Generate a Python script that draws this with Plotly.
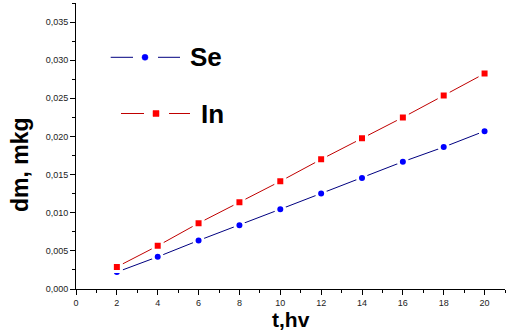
import plotly.graph_objects as go

# ---- data ----
t_hours = [2, 4, 6, 8, 10, 12, 14, 16, 18, 20]
se_dm = [0.00222, 0.00422, 0.00636, 0.00837, 0.01046, 0.01253, 0.01456, 0.01669, 0.01861, 0.0207]
in_dm = [0.00290, 0.00566, 0.00863, 0.01138, 0.01412, 0.01700, 0.01975, 0.02250, 0.02537, 0.02825]

x_tickvals = [0, 2, 4, 6, 8, 10, 12, 14, 16, 18, 20]
x_ticktext = ["0", "2", "4", "6", "8", "10", "12", "14", "16", "18", "20"]
y_tickvals = [0, 0.005, 0.010, 0.015, 0.020, 0.025, 0.030, 0.035]
y_ticktext = ["0,000", "0,005", "0,010", "0,015", "0,020", "0,025", "0,030", "0,035"]
x_minor = list(range(0, 22))
y_minor = [i * 0.0025 for i in range(0, 16)]

FONT = "Arial, 'Liberation Sans', sans-serif"

# plot area in pixels
L, R, T, B = 76, 505, 3, 289
W, H = 522, 335


def px(xp):
    return (xp - L) / (R - L)


def py(yp):
    return (B - yp) / (B - T)


fig = go.Figure()
fig.add_trace(go.Scatter(
    x=t_hours, y=se_dm, mode="lines+markers", name="Se",
    line=dict(color="#000080", width=1),
    marker=dict(symbol="circle", size=9, color="#0000FF",
                line=dict(color="white", width=3)),
    showlegend=False))
fig.add_trace(go.Scatter(
    x=t_hours, y=in_dm, mode="lines+markers", name="In",
    line=dict(color="#C00000", width=1),
    marker=dict(symbol="square", size=9, color="#FF0000",
                line=dict(color="white", width=3)),
    showlegend=False))

shapes = []
annotations = []
# legend glyphs and labels
for (x0, x1, xm, yc, lc, mc, sym, label, tx) in [
    (110.7, 180, 145, 57.3, "#000080", "#0000FF", "circle", "Se", 188),
    (121, 190, 156, 113.5, "#C00000", "#FF0000", "square", "In", 199),
]:
    shapes.append(dict(type="line", xref="paper", yref="paper",
                       x0=px(x0), x1=px(xm - 12), y0=py(yc), y1=py(yc),
                       line=dict(color=lc, width=1)))
    shapes.append(dict(type="line", xref="paper", yref="paper",
                       x0=px(xm + 13), x1=px(x1), y0=py(yc), y1=py(yc),
                       line=dict(color=lc, width=1)))
    r = 3
    shapes.append(dict(type="circle" if sym == "circle" else "rect",
                       xref="paper", yref="paper",
                       x0=px(xm - r), x1=px(xm + r), y0=py(yc - r), y1=py(yc + r),
                       fillcolor=mc, line=dict(color=mc, width=0.5)))
    annotations.append(dict(text=label, xref="paper", yref="paper",
                            x=px(tx), y=py(yc), xanchor="left", yanchor="middle",
                            showarrow=False,
                            font=dict(family=FONT, size=26, color="black", weight="bold")))

# axis titles
annotations.append(dict(text="dm, mkg", xref="paper", yref="paper",
                        x=px(20), y=py(165), xanchor="center", yanchor="middle",
                        textangle=-90, showarrow=False,
                        font=dict(family=FONT, size=23, color="black", weight="bold")))
annotations.append(dict(text="t,hv", xref="paper", yref="paper",
                        x=px(291), y=py(319.5), xanchor="center", yanchor="middle",
                        showarrow=False,
                        font=dict(family=FONT, size=21, color="black", weight="bold")))

fig.update_layout(
    width=W, height=H,
    margin=dict(l=L, r=W - R, t=T, b=H - B),
    paper_bgcolor="white", plot_bgcolor="white",
    shapes=shapes, annotations=annotations,
    xaxis=dict(range=[0, 21], showgrid=False, zeroline=False,
               showline=True, linecolor="black", linewidth=1,
               tickmode="array", tickvals=x_tickvals, ticktext=x_ticktext,
               ticks="outside", ticklen=5, tickcolor="black", tickwidth=1,
               tickfont=dict(family=FONT, size=9, color="#222222"),
               minor=dict(tickmode="array", tickvals=x_minor, ticks="outside",
                          ticklen=3, tickcolor="black", showgrid=False)),
    yaxis=dict(range=[0, 0.0375], showgrid=False, zeroline=False,
               showline=True, linecolor="black", linewidth=1,
               tickmode="array", tickvals=y_tickvals, ticktext=y_ticktext,
               ticks="outside", ticklen=5, tickcolor="black", tickwidth=1,
               tickfont=dict(family=FONT, size=9, color="#222222"),
               minor=dict(tickmode="array", tickvals=y_minor, ticks="outside",
                          ticklen=3, tickcolor="black", showgrid=False)),
)

fig.write_html("out.html")
